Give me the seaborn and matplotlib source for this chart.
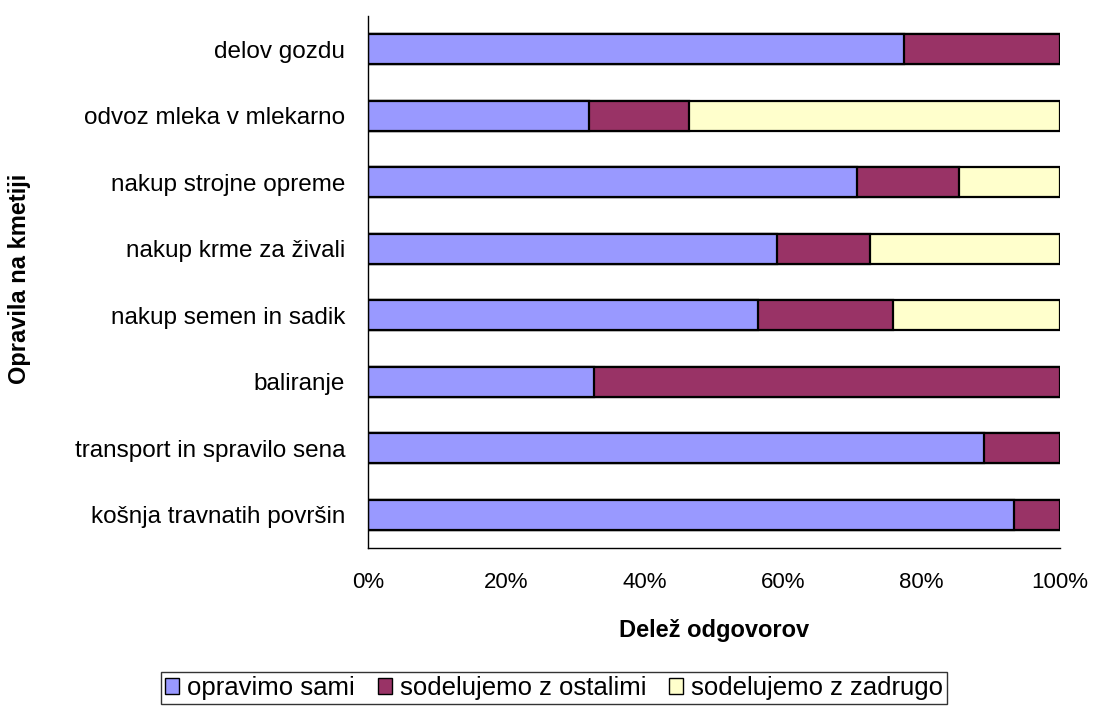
import numpy as np
import pandas as pd
import matplotlib
matplotlib.use("Agg")
import matplotlib.pyplot as plt
import seaborn as sns
from matplotlib.patches import Patch
from matplotlib.ticker import FixedLocator, PercentFormatter

categories = ["delov gozdu", "odvoz mleka v mlekarno", "nakup strojne opreme",
              "nakup krme za živali", "nakup semen in sadik", "baliranje",
              "transport in spravilo sena", "košnja travnatih površin"]
sami = [77.4, 32.0, 70.7, 59.1, 56.4, 32.7, 89.0, 93.4]
ostalimi = [22.6, 14.4, 14.7, 13.4, 19.5, 67.3, 11.0, 6.6]
zadrugo = [0.0, 53.6, 14.6, 27.5, 24.1, 0.0, 0.0, 0.0]
series_names = ["opravimo sami", "sodelujemo z ostalimi", "sodelujemo z zadrugo"]
colors = ["#9999FF", "#993366", "#FFFFCC"]
xticks = [0, 20, 40, 60, 80, 100]

sns.set_style("white")
plt.rcParams['font.family'] = ['Liberation Sans', 'DejaVu Sans']
plt.rcParams['text.color'] = 'black'
plt.rcParams['xtick.color'] = 'black'
plt.rcParams['ytick.color'] = 'black'
plt.rcParams['axes.labelcolor'] = 'black'

fig = plt.figure(figsize=(10.96, 7.07), dpi=100)
ax = fig.add_axes([368/1096, 1-548/707, (1060-368)/1096, (548-16)/707])

s1 = np.array(sami)
s2 = s1 + np.array(ostalimi)
s3 = s2 + np.array(zadrugo)
layers = [s3, s2, s1]
layer_colors = [colors[2], colors[1], colors[0]]
for vals, c in zip(layers, layer_colors):
    df = pd.DataFrame({"cat": categories, "val": vals})
    sns.barplot(data=df, x="val", y="cat", orient="h", color=c, edgecolor="black",
                linewidth=1.6, width=0.45, saturation=1, ax=ax)

ax.set_xlim(0, 100)
ax.set_ylim(len(categories) - 0.5, -0.5)
ax.xaxis.set_major_locator(FixedLocator(xticks))
ax.xaxis.set_major_formatter(PercentFormatter(decimals=0))
ax.tick_params(axis="x", direction="in", length=7, width=1, labelsize=16, pad=17)
ax.tick_params(axis="y", which="major", length=0, labelsize=17.5, pad=16.5)
ax.yaxis.set_minor_locator(FixedLocator(np.arange(-0.5, len(categories), 1.0)))
ax.tick_params(axis="y", which="minor", direction="in", length=7, width=1, color="black")

for sp in ["top", "right"]:
    ax.spines[sp].set_visible(False)
for sp in ["left", "bottom"]:
    ax.spines[sp].set_color("black")
    ax.spines[sp].set_linewidth(1)

ax.set_xlabel("")
ax.set_ylabel("")
fig.text(714/1096, 1-630/707, "Delež odgovorov", fontsize=17, fontweight="bold",
         ha="center", va="center")
fig.text(20/1096, 1-279/707, "Opravila na kmetiji", rotation=90, fontsize=17,
         fontweight="bold", ha="center", va="center")

handles = [Patch(facecolor=c, edgecolor="black", linewidth=1) for c in colors]
leg = fig.legend(handles, series_names, loc="center", bbox_to_anchor=(554/1096, 1-688/707),
                 ncol=3, fontsize=18.5, frameon=True, fancybox=False, edgecolor="black",
                 handlelength=0.55, handleheight=0.55, handletextpad=0.3, columnspacing=0.9,
                 borderpad=0.15, borderaxespad=0)
leg.get_frame().set_linewidth(1)

fig.savefig("out.png", dpi=100)
